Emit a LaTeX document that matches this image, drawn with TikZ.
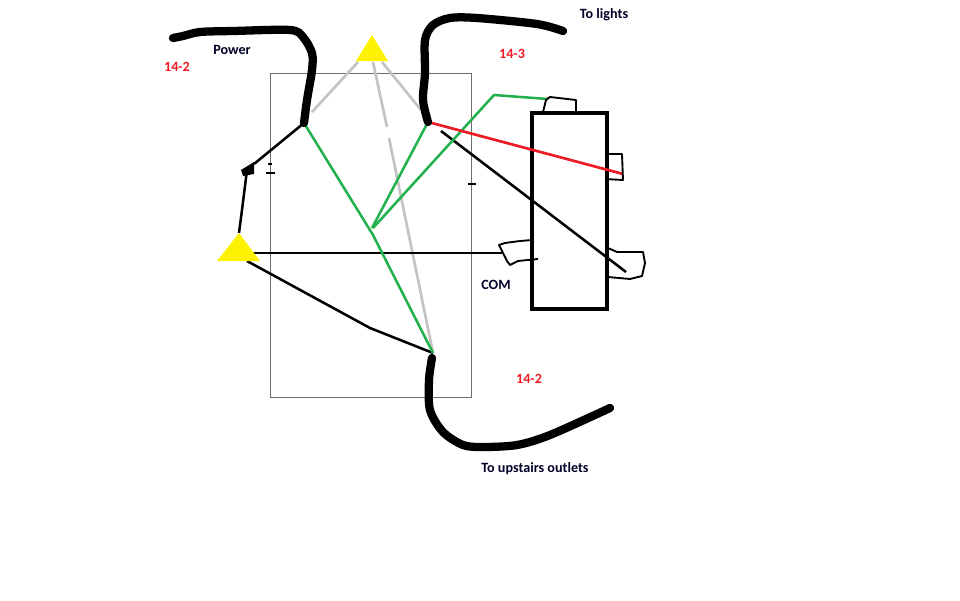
\documentclass[tikz,border=0pt]{standalone}
\usepackage{fontspec}
\setmainfont{Carlito}
\definecolor{wiregreen}{HTML}{22B14C}
\definecolor{wirered}{HTML}{ED1C24}
\definecolor{wiregray}{HTML}{C3C3C3}
\definecolor{boxgray}{HTML}{6F6F6F}
\definecolor{nutyellow}{HTML}{FFF200}
\tikzset{
  cable/.style={black,line width=6.2pt,line cap=round,line join=round},
  thinwire/.style={black,line width=1.9pt,line join=round},
  scrawl/.style={black,line width=1.4pt,line join=round},
  greenwire/.style={wiregreen,line width=1.9pt,line join=round},
  graywire/.style={wiregray,line width=2pt},
  nut/.style={fill=nutyellow,draw=none},
  blacklabel/.style={font=\bfseries\fontsize{10.6}{12}\selectfont,text=black!85!blue},
  redlabel/.style={font=\bfseries\fontsize{10.6}{12}\selectfont,text=wirered}
}
\begin{document}
\begin{tikzpicture}[x=0.75pt,y=-0.75pt]
  \useasboundingbox (0,0) rectangle (960,600);
  % junctions
  \coordinate (hot) at (304,123);
  \coordinate (lights) at (428,122);
  \coordinate (outlets) at (433,353);
  \coordinate (greenjoin) at (373,228);
  \coordinate (bend) at (494,95);
  \coordinate (screw) at (548,99);
  \coordinate (topnutl) at (356,61);
  \coordinate (topnutr) at (388,61);
  \coordinate (topnutc) at (372,35);
  \coordinate (leftnutl) at (217,261);
  \coordinate (leftnutr) at (260,261);
  \coordinate (leftnutc) at (239,233);
  % device box
  \draw[boxgray,line width=0.6pt] (270,73) rectangle (471,397);
  \draw[black,line width=2.4pt] (532,113) rectangle (607,309);
  % gray wires
  \draw[graywire] (topnutl) ++(2,1) -- (312,112);
  \draw[graywire] (topnutr) ++(-6,1) -- (421,110);
  \draw[graywire] (373,62) -- (387,127);
  \draw[graywire] (389,138) -- (outlets);
  % black wires
  \draw[thinwire] (hot) -- (254,164);
  \draw[thinwire] (247,170) -- (242,210) -- (leftnutc);
  \fill[black] (241,170) -- (254,162) -- (254,174) -- (243,176) -- cycle;
  \draw[thinwire] (250,253) -- (502,253);
  \draw[thinwire] (247,261) -- (370,328) -- (outlets);
  \draw[thinwire] (441,131) -- (626,272);
  % green and red wires
  \draw[greenwire] (hot) -- (373,235) -- (outlets);
  \draw[greenwire] (lights) -- (372,228);
  \draw[greenwire] (greenjoin) -- (bend) -- (screw);
  \draw[wirered,line width=2pt] (lights) -- (623,174);
  % cables
  \draw[cable] plot[smooth,tension=0.5] coordinates {(173,38) (183,36) (200,32) (233,31) (290,30) (303,37) (312,53) (312,70) (307,100) (hot)};
  \draw[cable] plot[smooth,tension=0.5] coordinates {(563,31) (537,24) (477,18) (450,18) (433,25) (425,40) (425,73) (423,100) (lights)};
  \draw[cable] plot[smooth,tension=0.5] coordinates {(432,358) (429,380) (430,410) (443,432) (463,445) (483,447) (517,445) (550,435) (610,408)};
  % wire nuts
  \fill[nut] (topnutl) -- (topnutc) -- (topnutr) -- cycle;
  \fill[nut] (leftnutl) -- (leftnutc) -- (leftnutr) -- cycle;
  % terminals
  \draw[scrawl] (532,240) -- (520,241) -- (505,243) -- (499,245) -- (503,253) -- (507,261) -- (510,265) -- (518,261) -- (538,259);
  \draw[scrawl] (608,248) -- (617,252) -- (643,252) -- (645,263) -- (642,276) -- (630,279) -- (608,277);
  \draw[scrawl] (607,154) -- (622,154) -- (623,180) -- (605,179);
  \draw[scrawl] (543,112) -- (546,100) -- (550,97) -- (576,100) -- (576,114);
  % ticks on the box
  \foreach \a/\b/\yy in {268/272/164, 266/275/173, 468/476/184}
    \draw[black,line width=1.3pt] (\a,\yy) -- (\b,\yy);
  % labels
  \node[blacklabel] (power) at (232,50) {Power};
  \node[redlabel] (tagpower) at (177,67) {14-2};
  \node[redlabel] (taglights) at (512,54) {14-3};
  \node[blacklabel] (tolights) at (604,15) {To lights};
  \node[blacklabel] (com) at (496,285) {COM};
  \node[redlabel] (tagoutlets) at (529,379) {14-2};
  \node[blacklabel] (tooutlets) at (535,469) {To upstairs outlets};
\end{tikzpicture}
\end{document}
